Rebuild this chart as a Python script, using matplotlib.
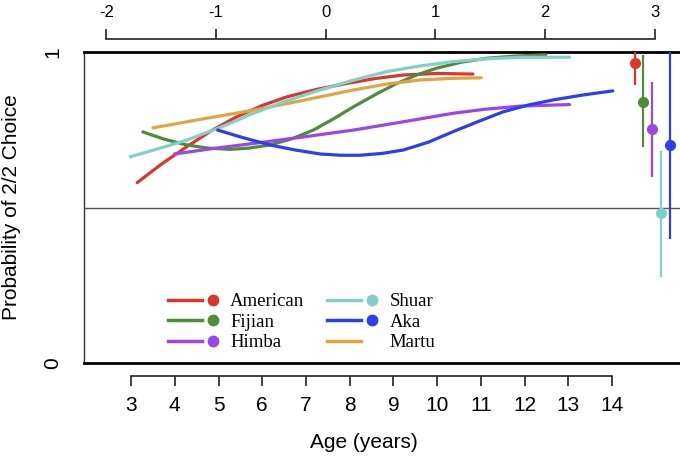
import matplotlib
matplotlib.use("Agg")
import matplotlib.pyplot as plt
from matplotlib.lines import Line2D
from matplotlib.legend_handler import HandlerBase

# Curves: age (years) vs probability of 2/2 choice
american_age = [3.14, 3.7, 4.28, 4.85, 5.42, 6.0, 6.57, 7.25, 7.94, 8.6, 9.23, 10.0, 10.82]
american_p = [0.580, 0.640, 0.696, 0.748, 0.792, 0.828, 0.856, 0.880, 0.899, 0.915, 0.926, 0.931, 0.929]
fijian_age = [3.27, 3.75, 4.28, 4.75, 5.27, 5.7, 6.18, 6.7, 7.17, 7.63, 8.09, 8.6, 9.08, 9.55,
              9.99, 10.55, 11.14, 11.8, 12.49]
fijian_p = [0.743, 0.720, 0.701, 0.691, 0.687, 0.691, 0.701, 0.722, 0.749, 0.785, 0.824, 0.864, 0.899,
            0.927, 0.948, 0.967, 0.980, 0.987, 0.991]
himba_age = [3.99, 4.9, 5.80, 6.95, 8.09, 9.2, 10.37, 11.1, 11.90, 13.03]
himba_p = [0.672, 0.690, 0.706, 0.727, 0.749, 0.775, 0.803, 0.816, 0.826, 0.831]
martu_age = [3.50, 4.65, 5.80, 6.95, 8.09, 8.85, 9.61, 10.3, 11.01]
martu_p = [0.756, 0.785, 0.813, 0.845, 0.878, 0.897, 0.910, 0.915, 0.917]
shuar_age = [2.98, 3.6, 4.28, 5.05, 5.80, 6.55, 7.33, 8.1, 8.85, 9.6, 10.37, 11.1, 11.90, 13.03]
shuar_p = [0.663, 0.688, 0.717, 0.758, 0.803, 0.843, 0.878, 0.910, 0.937, 0.955, 0.969, 0.978, 0.983, 0.983]
aka_age = [4.98, 5.55, 6.18, 6.75, 7.33, 7.8, 8.24, 8.75, 9.23, 9.8, 10.37, 10.95, 11.52, 12.1,
           12.66, 13.35, 14.02]
aka_p = [0.749, 0.725, 0.701, 0.685, 0.672, 0.668, 0.668, 0.674, 0.685, 0.710, 0.744, 0.777, 0.808,
         0.830, 0.846, 0.862, 0.875]

# Adult estimates with intervals (drawn in the top-axis region)
adult_groups = ["American", "Fijian", "Himba", "Shuar", "Aka"]
adult_x = [14.53, 14.71, 14.92, 15.12, 15.33]
adult_p = [0.966, 0.840, 0.752, 0.482, 0.701]
adult_lo = [0.894, 0.695, 0.598, 0.277, 0.399]
adult_hi = [1.0, 0.990, 0.904, 0.682, 1.0]

colors = {
    "American": "#d9372b",
    "Fijian": "#508a3c",
    "Himba": "#9a47e6",
    "Shuar": "#80d0c8",
    "Aka": "#2b3ff0",
    "Martu": "#e2a442",
}

age_ticks = list(range(3, 15))
top_ticks = [-2, -1, 0, 1, 2, 3]

sans = ["Liberation Sans", "DejaVu Sans"]
serif = ["Liberation Serif", "DejaVu Serif"]
plt.rcParams['font.family'] = sans


class LineDotHandler(HandlerBase):
  """Legend key: a short line followed by a dot (dot only if marker set)."""
  def create_artists(self, legend, orig_handle, xdescent, ydescent, width, height, fontsize, trans):
    y = height / 2 - ydescent
    x0 = -xdescent
    color = orig_handle.get_color()
    arts = [Line2D([x0, x0 + 0.68 * width], [y, y], color=color, lw=2.5, transform=trans)]
    if orig_handle.get_marker() not in (None, "None", "none", ""):
      arts.append(Line2D([x0 + 0.9 * width], [y], marker="o", ms=7.5, color=color, ls="none", transform=trans))
    return arts


fig = plt.figure(figsize=(6.8, 4.62), dpi=100)
W, H = 680.0, 462.0
ax = fig.add_axes([84.3 / W, 1 - 363 / H, (681 - 84.3) / W, 311 / H])
ax.set_xlim(1.93, 15.58)
ax.set_ylim(0, 1)

# Reference line at 0.5
ax.axhline(0.5, color="#555555", lw=1.0, zorder=1)

curves = [
    ("American", american_age, american_p),
    ("Fijian", fijian_age, fijian_p),
    ("Himba", himba_age, himba_p),
    ("Martu", martu_age, martu_p),
    ("Shuar", shuar_age, shuar_p),
    ("Aka", aka_age, aka_p),
]
for name, xs, ys in curves:
  ax.plot(xs, ys, color=colors[name], lw=2.3, solid_capstyle="round", solid_joinstyle="round", zorder=3)

# Adult points with intervals
for name, x, p, lo, hi in zip(adult_groups, adult_x, adult_p, adult_lo, adult_hi):
  ax.vlines(x, lo, hi, color=colors[name], lw=1.6, zorder=3)
  ax.plot([x], [p], "o", color=colors[name], ms=7, zorder=4)

# Box
for side in ["top", "bottom"]:
  ax.spines[side].set_linewidth(2.0)
  ax.spines[side].set_color("black")
ax.spines["left"].set_linewidth(1.0)
ax.spines["left"].set_color("#333333")
ax.spines["right"].set_visible(False)

ax.set_xticks([])
ax.set_yticks([0, 1])
ax.set_yticklabels(["0", "1"], rotation=90, va="center", fontsize=15)
ax.tick_params(axis="y", length=0, pad=16)

# Bottom age axis, offset below the box
bax = ax.secondary_xaxis(-13 / 311)
bax.set_xticks(age_ticks)
bax.set_xticklabels([str(t) for t in age_ticks], fontsize=15)
bax.spines["bottom"].set_bounds(age_ticks[0], age_ticks[-1])
bax.spines["bottom"].set_linewidth(1.2)
bax.spines["bottom"].set_color("#222222")
bax.tick_params(axis="x", direction="out", length=7.5, width=1.2, pad=7, color="#222222")

# Top axis (standardized scale)
slope = 43.75 / 109.74
icpt = -2.971
tax = ax.secondary_xaxis(1 + 13 / 311, functions=(lambda a: slope * a + icpt, lambda t: (t - icpt) / slope))
tax.set_xticks(top_ticks)
tax.set_xticklabels([str(t) for t in top_ticks], fontsize=12)
tax.spines["top"].set_bounds(top_ticks[0], top_ticks[-1])
tax.spines["top"].set_linewidth(1.2)
tax.spines["top"].set_color("#222222")
tax.tick_params(axis="x", direction="out", length=7.5, width=1.2, pad=6, color="#222222")

ax.set_xlabel("Age (years)", fontsize=15)
ax.xaxis.set_label_coords((364 - 84.3) / 596.7, (363 - 433) / 311)
ax.set_ylabel("Probability of 2/2 Choice", fontsize=15)
ax.yaxis.set_label_coords((21 - 84.3) / 596.7, 0.5)

# Legend
legend_order = ["American", "Fijian", "Himba", "Shuar", "Aka", "Martu"]
handles = [Line2D([], [], color=colors[n], marker=("None" if n == "Martu" else "o")) for n in legend_order]
leg = ax.legend(handles, legend_order, handler_map={Line2D: LineDotHandler()},
                ncol=2, loc="upper left", bbox_to_anchor=(168 / W, 1 - 293 / H),
                bbox_transform=fig.transFigure, frameon=False, borderpad=0, borderaxespad=0,
                handlelength=2.67, handletextpad=0.64, columnspacing=1.23, labelspacing=0.18,
                prop={"family": serif, "size": 13.5})

fig.savefig("out.png", dpi=100)
